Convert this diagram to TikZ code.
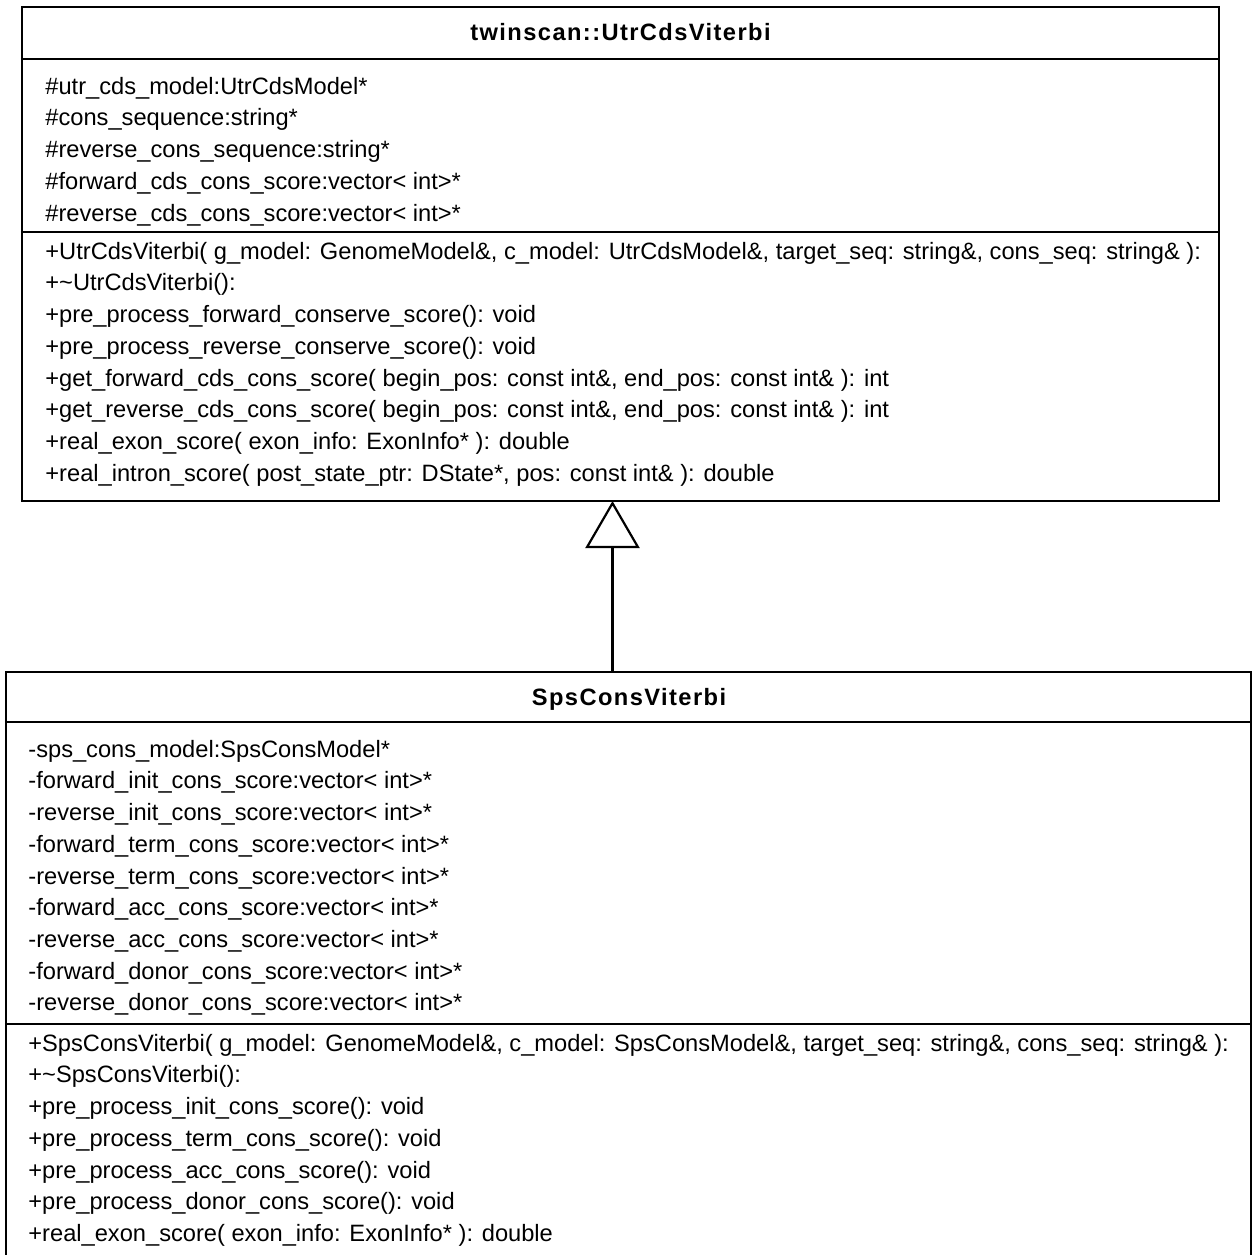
\documentclass[tikz,border=0pt]{standalone}
\usepackage{fontspec}
\setmainfont{Liberation Sans}
\newfontfamily\umltitlefont[LetterSpace=6]{Liberation Sans}
\usetikzlibrary{arrows.meta}
\newcommand\umlfs{11.83}
\begin{document}
\begin{tikzpicture}[x=0.5pt,y=-0.5pt,
  umlline/.style={line width=1.1pt,draw=black},
  classbox/.style={umlline,rectangle,inner sep=0pt,fill=white},
  member/.style={anchor=west,inner sep=0pt,text height=0.92em,text depth=0.2em,
    font=\fontsize{\umlfs pt}{\umlfs pt}\selectfont},
  classname/.style={inner sep=0pt,text height=0.92em,text depth=0.2em,
    font=\umltitlefont\fontsize{\umlfs pt}{\umlfs pt}\selectfont\bfseries}]
\useasboundingbox (0,0) rectangle (1254,1255);
\clip (0,0) rectangle (1254,1255);

% ---- base class ----
\node[classbox,minimum width=598.5pt,minimum height=247pt] (utr) at (620.5,254) {};
\draw[umlline] (utr.west |- 0,59) -- (utr.east |- 0,59);
\draw[umlline] (utr.west |- 0,232) -- (utr.east |- 0,232);
\node[classname] (utrname) at (620.5,33) {twinscan::UtrCdsViterbi};

\node[member] (ua1) at (45,87.0)  {\#utr\_cds\_model:UtrCdsModel*};
\node[member] (ua2) at (45,118.7) {\#cons\_sequence:string*};
\node[member] (ua3) at (45,150.4) {\#reverse\_cons\_sequence:string*};
\node[member] (ua4) at (45,182.1) {\#forward\_cds\_cons\_score:vector< int>*};
\node[member] (ua5) at (45,213.8) {\#reverse\_cds\_cons\_score:vector< int>*};

\node[member] (um1) at (45,252.0) {+UtrCdsViterbi( g\_model: GenomeModel\&, c\_model: UtrCdsModel\&, target\_seq: string\&, cons\_seq: string\& ):};
\node[member] (um2) at (45,283.7) {+\textasciitilde UtrCdsViterbi():};
\node[member] (um3) at (45,315.4) {+pre\_process\_forward\_conserve\_score(): void};
\node[member] (um4) at (45,347.1) {+pre\_process\_reverse\_conserve\_score(): void};
\node[member] (um5) at (45,378.8) {+get\_forward\_cds\_cons\_score( begin\_pos: const int\&, end\_pos: const int\& ): int};
\node[member] (um6) at (45,410.5) {+get\_reverse\_cds\_cons\_score( begin\_pos: const int\&, end\_pos: const int\& ): int};
\node[member] (um7) at (45,442.2) {+real\_exon\_score( exon\_info: ExonInfo* ): double};
\node[member] (um8) at (45,473.9) {+real\_intron\_score( post\_state\_ptr: DState*, pos: const int\& ): double};

% ---- derived class (runs past the lower edge) ----
\node[classbox,minimum width=622.5pt,minimum height=309pt] (sps) at (628.5,981) {};
\draw[umlline] (sps.west |- 0,722) -- (sps.east |- 0,722);
\draw[umlline] (sps.west |- 0,1024) -- (sps.east |- 0,1024);
\node[classname] (spsname) at (629,698) {SpsConsViterbi};

\node[member] (sa1) at (28,750.0)  {-sps\_cons\_model:SpsConsModel*};
\node[member] (sa2) at (28,781.7)  {-forward\_init\_cons\_score:vector< int>*};
\node[member] (sa3) at (28,813.4)  {-reverse\_init\_cons\_score:vector< int>*};
\node[member] (sa4) at (28,845.1)  {-forward\_term\_cons\_score:vector< int>*};
\node[member] (sa5) at (28,876.8)  {-reverse\_term\_cons\_score:vector< int>*};
\node[member] (sa6) at (28,908.5)  {-forward\_acc\_cons\_score:vector< int>*};
\node[member] (sa7) at (28,940.2)  {-reverse\_acc\_cons\_score:vector< int>*};
\node[member] (sa8) at (28,971.9)  {-forward\_donor\_cons\_score:vector< int>*};
\node[member] (sa9) at (28,1003.6) {-reverse\_donor\_cons\_score:vector< int>*};

\node[member] (sm1) at (28,1044.0) {+SpsConsViterbi( g\_model: GenomeModel\&, c\_model: SpsConsModel\&, target\_seq: string\&, cons\_seq: string\& ):};
\node[member] (sm2) at (28,1075.7) {+\textasciitilde SpsConsViterbi():};
\node[member] (sm3) at (28,1107.4) {+pre\_process\_init\_cons\_score(): void};
\node[member] (sm4) at (28,1139.1) {+pre\_process\_term\_cons\_score(): void};
\node[member] (sm5) at (28,1170.8) {+pre\_process\_acc\_cons\_score(): void};
\node[member] (sm6) at (28,1202.5) {+pre\_process\_donor\_cons\_score(): void};
\node[member] (sm7) at (28,1234.2) {+real\_exon\_score( exon\_info: ExonInfo* ): double};

% ---- generalization ----
\coordinate (apex) at (612.5,501);
\draw[umlline,-{Triangle[open,length=23.5pt,width=27pt]}] (sps.north -| apex) -- (apex);
\end{tikzpicture}
\end{document}
